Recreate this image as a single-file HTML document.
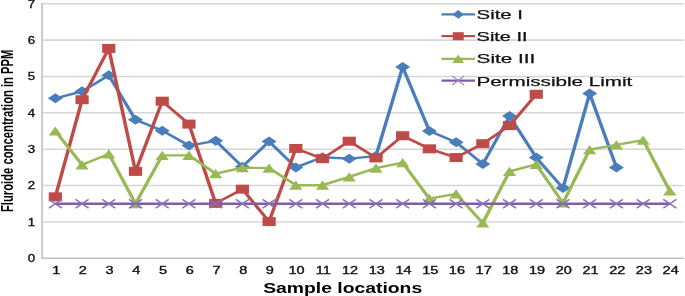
<!DOCTYPE html><html><head><meta charset="utf-8"><style>html,body{margin:0;padding:0;background:#fff;overflow:hidden;}svg{display:block;}text{font-family:"Liberation Sans",sans-serif;}svg{will-change:transform;}</style></head><body>
<svg width="685" height="296" viewBox="0 0 685 296">
<rect width="685" height="296" fill="#fff"/>
<line x1="42.0" y1="221.93" x2="684.0" y2="221.93" stroke="#d6d6d6" stroke-width="1.6"/>
<line x1="42.0" y1="185.56" x2="684.0" y2="185.56" stroke="#d6d6d6" stroke-width="1.6"/>
<line x1="42.0" y1="149.19" x2="684.0" y2="149.19" stroke="#d6d6d6" stroke-width="1.6"/>
<line x1="42.0" y1="112.82" x2="684.0" y2="112.82" stroke="#d6d6d6" stroke-width="1.6"/>
<line x1="42.0" y1="76.45" x2="684.0" y2="76.45" stroke="#d6d6d6" stroke-width="1.6"/>
<line x1="42.0" y1="40.08" x2="684.0" y2="40.08" stroke="#d6d6d6" stroke-width="1.6"/>
<line x1="42.0" y1="3.71" x2="684.0" y2="3.71" stroke="#d6d6d6" stroke-width="1.6"/>
<line x1="42.0" y1="258.3" x2="684.0" y2="258.3" stroke="#c0c0c0" stroke-width="1.6"/>
<line x1="42.0" y1="2.91" x2="42.0" y2="259.1" stroke="#c6c6c6" stroke-width="1.8"/>
<text transform="translate(35.2,262.10) scale(1.26,1)" font-size="10.5" text-anchor="end" fill="#111" stroke="#111" stroke-width="0.35">0</text>
<text transform="translate(35.2,225.73) scale(1.26,1)" font-size="10.5" text-anchor="end" fill="#111" stroke="#111" stroke-width="0.35">1</text>
<text transform="translate(35.2,189.36) scale(1.26,1)" font-size="10.5" text-anchor="end" fill="#111" stroke="#111" stroke-width="0.35">2</text>
<text transform="translate(35.2,152.99) scale(1.26,1)" font-size="10.5" text-anchor="end" fill="#111" stroke="#111" stroke-width="0.35">3</text>
<text transform="translate(35.2,116.62) scale(1.26,1)" font-size="10.5" text-anchor="end" fill="#111" stroke="#111" stroke-width="0.35">4</text>
<text transform="translate(35.2,80.25) scale(1.26,1)" font-size="10.5" text-anchor="end" fill="#111" stroke="#111" stroke-width="0.35">5</text>
<text transform="translate(35.2,43.88) scale(1.26,1)" font-size="10.5" text-anchor="end" fill="#111" stroke="#111" stroke-width="0.35">6</text>
<text transform="translate(35.2,7.51) scale(1.26,1)" font-size="10.5" text-anchor="end" fill="#111" stroke="#111" stroke-width="0.35">7</text>
<text transform="translate(56.16,273.6) scale(1.38,1)" font-size="10.5" text-anchor="middle" fill="#111" stroke="#111" stroke-width="0.35">1</text>
<text transform="translate(82.88,273.6) scale(1.38,1)" font-size="10.5" text-anchor="middle" fill="#111" stroke="#111" stroke-width="0.35">2</text>
<text transform="translate(109.59,273.6) scale(1.38,1)" font-size="10.5" text-anchor="middle" fill="#111" stroke="#111" stroke-width="0.35">3</text>
<text transform="translate(136.31,273.6) scale(1.38,1)" font-size="10.5" text-anchor="middle" fill="#111" stroke="#111" stroke-width="0.35">4</text>
<text transform="translate(163.03,273.6) scale(1.38,1)" font-size="10.5" text-anchor="middle" fill="#111" stroke="#111" stroke-width="0.35">5</text>
<text transform="translate(189.74,273.6) scale(1.38,1)" font-size="10.5" text-anchor="middle" fill="#111" stroke="#111" stroke-width="0.35">6</text>
<text transform="translate(216.46,273.6) scale(1.38,1)" font-size="10.5" text-anchor="middle" fill="#111" stroke="#111" stroke-width="0.35">7</text>
<text transform="translate(243.18,273.6) scale(1.38,1)" font-size="10.5" text-anchor="middle" fill="#111" stroke="#111" stroke-width="0.35">8</text>
<text transform="translate(269.89,273.6) scale(1.38,1)" font-size="10.5" text-anchor="middle" fill="#111" stroke="#111" stroke-width="0.35">9</text>
<text transform="translate(296.61,273.6) scale(1.38,1)" font-size="10.5" text-anchor="middle" fill="#111" stroke="#111" stroke-width="0.35">10</text>
<text transform="translate(323.33,273.6) scale(1.38,1)" font-size="10.5" text-anchor="middle" fill="#111" stroke="#111" stroke-width="0.35">11</text>
<text transform="translate(350.04,273.6) scale(1.38,1)" font-size="10.5" text-anchor="middle" fill="#111" stroke="#111" stroke-width="0.35">12</text>
<text transform="translate(376.76,273.6) scale(1.38,1)" font-size="10.5" text-anchor="middle" fill="#111" stroke="#111" stroke-width="0.35">13</text>
<text transform="translate(403.48,273.6) scale(1.38,1)" font-size="10.5" text-anchor="middle" fill="#111" stroke="#111" stroke-width="0.35">14</text>
<text transform="translate(430.19,273.6) scale(1.38,1)" font-size="10.5" text-anchor="middle" fill="#111" stroke="#111" stroke-width="0.35">15</text>
<text transform="translate(456.91,273.6) scale(1.38,1)" font-size="10.5" text-anchor="middle" fill="#111" stroke="#111" stroke-width="0.35">16</text>
<text transform="translate(483.63,273.6) scale(1.38,1)" font-size="10.5" text-anchor="middle" fill="#111" stroke="#111" stroke-width="0.35">17</text>
<text transform="translate(510.34,273.6) scale(1.38,1)" font-size="10.5" text-anchor="middle" fill="#111" stroke="#111" stroke-width="0.35">18</text>
<text transform="translate(537.06,273.6) scale(1.38,1)" font-size="10.5" text-anchor="middle" fill="#111" stroke="#111" stroke-width="0.35">19</text>
<text transform="translate(563.77,273.6) scale(1.38,1)" font-size="10.5" text-anchor="middle" fill="#111" stroke="#111" stroke-width="0.35">20</text>
<text transform="translate(590.49,273.6) scale(1.38,1)" font-size="10.5" text-anchor="middle" fill="#111" stroke="#111" stroke-width="0.35">21</text>
<text transform="translate(617.21,273.6) scale(1.38,1)" font-size="10.5" text-anchor="middle" fill="#111" stroke="#111" stroke-width="0.35">22</text>
<text transform="translate(643.92,273.6) scale(1.38,1)" font-size="10.5" text-anchor="middle" fill="#111" stroke="#111" stroke-width="0.35">23</text>
<text transform="translate(670.64,273.6) scale(1.38,1)" font-size="10.5" text-anchor="middle" fill="#111" stroke="#111" stroke-width="0.35">24</text>
<polyline transform="scale(1.45,1)" points="38.178,98.27 56.603,91.36 75.029,75.36 93.454,119.73 111.879,130.64 130.305,145.55 148.730,140.82 167.155,166.65 185.580,141.55 204.006,167.38 222.431,157.19 240.856,158.65 259.282,156.10 277.707,66.99 296.132,131.01 314.557,142.28 332.983,164.10 351.408,116.09 369.833,157.56 388.259,188.11 406.684,93.54 425.109,167.38" fill="none" stroke="#4a7ebb" stroke-width="2.4" stroke-linejoin="round"/>
<polygon points="47.86,98.27 55.36,93.27 62.86,98.27 55.36,103.27" fill="#4a7ebb"/>
<polygon points="74.58,91.36 82.08,86.36 89.58,91.36 82.08,96.36" fill="#4a7ebb"/>
<polygon points="101.29,75.36 108.79,70.36 116.29,75.36 108.79,80.36" fill="#4a7ebb"/>
<polygon points="128.01,119.73 135.51,114.73 143.01,119.73 135.51,124.73" fill="#4a7ebb"/>
<polygon points="154.73,130.64 162.23,125.64 169.73,130.64 162.23,135.64" fill="#4a7ebb"/>
<polygon points="181.44,145.55 188.94,140.55 196.44,145.55 188.94,150.55" fill="#4a7ebb"/>
<polygon points="208.16,140.82 215.66,135.82 223.16,140.82 215.66,145.82" fill="#4a7ebb"/>
<polygon points="234.88,166.65 242.38,161.65 249.88,166.65 242.38,171.65" fill="#4a7ebb"/>
<polygon points="261.59,141.55 269.09,136.55 276.59,141.55 269.09,146.55" fill="#4a7ebb"/>
<polygon points="288.31,167.38 295.81,162.38 303.31,167.38 295.81,172.38" fill="#4a7ebb"/>
<polygon points="315.03,157.19 322.53,152.19 330.03,157.19 322.53,162.19" fill="#4a7ebb"/>
<polygon points="341.74,158.65 349.24,153.65 356.74,158.65 349.24,163.65" fill="#4a7ebb"/>
<polygon points="368.46,156.10 375.96,151.10 383.46,156.10 375.96,161.10" fill="#4a7ebb"/>
<polygon points="395.18,66.99 402.68,61.99 410.18,66.99 402.68,71.99" fill="#4a7ebb"/>
<polygon points="421.89,131.01 429.39,126.01 436.89,131.01 429.39,136.01" fill="#4a7ebb"/>
<polygon points="448.61,142.28 456.11,137.28 463.61,142.28 456.11,147.28" fill="#4a7ebb"/>
<polygon points="475.33,164.10 482.83,159.10 490.33,164.10 482.83,169.10" fill="#4a7ebb"/>
<polygon points="502.04,116.09 509.54,111.09 517.04,116.09 509.54,121.09" fill="#4a7ebb"/>
<polygon points="528.76,157.56 536.26,152.56 543.76,157.56 536.26,162.56" fill="#4a7ebb"/>
<polygon points="555.48,188.11 562.98,183.11 570.48,188.11 562.98,193.11" fill="#4a7ebb"/>
<polygon points="582.19,93.54 589.69,88.54 597.19,93.54 589.69,98.54" fill="#4a7ebb"/>
<polygon points="608.91,167.38 616.41,162.38 623.91,167.38 616.41,172.38" fill="#4a7ebb"/>
<polyline transform="scale(1.45,1)" points="38.178,196.83 56.603,99.73 75.029,48.45 93.454,171.38 111.879,101.18 130.305,124.09 148.730,203.38 167.155,189.20 185.580,221.57 204.006,148.46 222.431,158.65 240.856,141.19 259.282,157.92 277.707,135.73 296.132,148.83 314.557,157.56 332.983,143.73 351.408,125.55 369.833,94.27" fill="none" stroke="#be4b48" stroke-width="2.4" stroke-linejoin="round"/>
<rect x="48.76" y="192.33" width="13.2" height="9" fill="#be4b48"/>
<rect x="75.48" y="95.23" width="13.2" height="9" fill="#be4b48"/>
<rect x="102.19" y="43.95" width="13.2" height="9" fill="#be4b48"/>
<rect x="128.91" y="166.88" width="13.2" height="9" fill="#be4b48"/>
<rect x="155.63" y="96.68" width="13.2" height="9" fill="#be4b48"/>
<rect x="182.34" y="119.59" width="13.2" height="9" fill="#be4b48"/>
<rect x="209.06" y="198.88" width="13.2" height="9" fill="#be4b48"/>
<rect x="235.78" y="184.70" width="13.2" height="9" fill="#be4b48"/>
<rect x="262.49" y="217.07" width="13.2" height="9" fill="#be4b48"/>
<rect x="289.21" y="143.96" width="13.2" height="9" fill="#be4b48"/>
<rect x="315.93" y="154.15" width="13.2" height="9" fill="#be4b48"/>
<rect x="342.64" y="136.69" width="13.2" height="9" fill="#be4b48"/>
<rect x="369.36" y="153.42" width="13.2" height="9" fill="#be4b48"/>
<rect x="396.07" y="131.23" width="13.2" height="9" fill="#be4b48"/>
<rect x="422.79" y="144.33" width="13.2" height="9" fill="#be4b48"/>
<rect x="449.51" y="153.06" width="13.2" height="9" fill="#be4b48"/>
<rect x="476.23" y="139.23" width="13.2" height="9" fill="#be4b48"/>
<rect x="502.94" y="121.05" width="13.2" height="9" fill="#be4b48"/>
<rect x="529.66" y="89.77" width="13.2" height="9" fill="#be4b48"/>
<polyline transform="scale(1.45,1)" points="38.178,131.01 56.603,164.83 75.029,153.92 93.454,203.75 111.879,155.37 130.305,155.37 148.730,173.56 167.155,167.74 185.580,168.10 204.006,185.20 222.431,185.20 240.856,176.83 259.282,168.10 277.707,162.65 296.132,198.65 314.557,193.93 332.983,223.02 351.408,171.38 369.833,164.47 388.259,203.02 406.684,149.55 425.109,144.83 443.534,140.10 461.960,191.02" fill="none" stroke="#98b954" stroke-width="2.4" stroke-linejoin="round"/>
<polygon points="48.76,135.61 55.36,126.41 61.96,135.61" fill="#98b954"/>
<polygon points="75.48,169.43 82.08,160.23 88.67,169.43" fill="#98b954"/>
<polygon points="102.19,158.52 108.79,149.32 115.39,158.52" fill="#98b954"/>
<polygon points="128.91,208.34 135.51,199.15 142.11,208.34" fill="#98b954"/>
<polygon points="155.63,159.97 162.23,150.77 168.83,159.97" fill="#98b954"/>
<polygon points="182.34,159.97 188.94,150.77 195.54,159.97" fill="#98b954"/>
<polygon points="209.06,178.16 215.66,168.96 222.26,178.16" fill="#98b954"/>
<polygon points="235.78,172.34 242.38,163.14 248.97,172.34" fill="#98b954"/>
<polygon points="262.49,172.70 269.09,163.50 275.69,172.70" fill="#98b954"/>
<polygon points="289.21,189.80 295.81,180.60 302.41,189.80" fill="#98b954"/>
<polygon points="315.93,189.80 322.53,180.60 329.13,189.80" fill="#98b954"/>
<polygon points="342.64,181.43 349.24,172.23 355.84,181.43" fill="#98b954"/>
<polygon points="369.36,172.70 375.96,163.50 382.56,172.70" fill="#98b954"/>
<polygon points="396.07,167.25 402.68,158.05 409.28,167.25" fill="#98b954"/>
<polygon points="422.79,203.25 429.39,194.05 435.99,203.25" fill="#98b954"/>
<polygon points="449.51,198.53 456.11,189.33 462.71,198.53" fill="#98b954"/>
<polygon points="476.23,227.62 482.83,218.42 489.43,227.62" fill="#98b954"/>
<polygon points="502.94,175.98 509.54,166.78 516.14,175.98" fill="#98b954"/>
<polygon points="529.66,169.07 536.26,159.87 542.86,169.07" fill="#98b954"/>
<polygon points="556.38,207.62 562.98,198.42 569.58,207.62" fill="#98b954"/>
<polygon points="583.09,154.15 589.69,144.95 596.29,154.15" fill="#98b954"/>
<polygon points="609.81,149.43 616.41,140.23 623.01,149.43" fill="#98b954"/>
<polygon points="636.52,144.70 643.12,135.50 649.73,144.70" fill="#98b954"/>
<polygon points="663.24,195.62 669.84,186.42 676.44,195.62" fill="#98b954"/>
<polyline transform="scale(1.45,1)" points="38.178,203.75 56.603,203.75 75.029,203.75 93.454,203.75 111.879,203.75 130.305,203.75 148.730,203.75 167.155,203.75 185.580,203.75 204.006,203.75 222.431,203.75 240.856,203.75 259.282,203.75 277.707,203.75 296.132,203.75 314.557,203.75 332.983,203.75 351.408,203.75 369.833,203.75 388.259,203.75 406.684,203.75 425.109,203.75 443.534,203.75 461.960,203.75" fill="none" stroke="#7d5fa5" stroke-width="2.3" stroke-linejoin="round"/>
<path d="M48.86,199.34L61.86,208.15M48.86,208.15L61.86,199.34" stroke="#8a70b8" stroke-width="1.6" fill="none"/>
<path d="M75.58,199.34L88.58,208.15M75.58,208.15L88.58,199.34" stroke="#8a70b8" stroke-width="1.6" fill="none"/>
<path d="M102.29,199.34L115.29,208.15M102.29,208.15L115.29,199.34" stroke="#8a70b8" stroke-width="1.6" fill="none"/>
<path d="M129.01,199.34L142.01,208.15M129.01,208.15L142.01,199.34" stroke="#8a70b8" stroke-width="1.6" fill="none"/>
<path d="M155.73,199.34L168.73,208.15M155.73,208.15L168.73,199.34" stroke="#8a70b8" stroke-width="1.6" fill="none"/>
<path d="M182.44,199.34L195.44,208.15M182.44,208.15L195.44,199.34" stroke="#8a70b8" stroke-width="1.6" fill="none"/>
<path d="M209.16,199.34L222.16,208.15M209.16,208.15L222.16,199.34" stroke="#8a70b8" stroke-width="1.6" fill="none"/>
<path d="M235.88,199.34L248.88,208.15M235.88,208.15L248.88,199.34" stroke="#8a70b8" stroke-width="1.6" fill="none"/>
<path d="M262.59,199.34L275.59,208.15M262.59,208.15L275.59,199.34" stroke="#8a70b8" stroke-width="1.6" fill="none"/>
<path d="M289.31,199.34L302.31,208.15M289.31,208.15L302.31,199.34" stroke="#8a70b8" stroke-width="1.6" fill="none"/>
<path d="M316.03,199.34L329.03,208.15M316.03,208.15L329.03,199.34" stroke="#8a70b8" stroke-width="1.6" fill="none"/>
<path d="M342.74,199.34L355.74,208.15M342.74,208.15L355.74,199.34" stroke="#8a70b8" stroke-width="1.6" fill="none"/>
<path d="M369.46,199.34L382.46,208.15M369.46,208.15L382.46,199.34" stroke="#8a70b8" stroke-width="1.6" fill="none"/>
<path d="M396.18,199.34L409.18,208.15M396.18,208.15L409.18,199.34" stroke="#8a70b8" stroke-width="1.6" fill="none"/>
<path d="M422.89,199.34L435.89,208.15M422.89,208.15L435.89,199.34" stroke="#8a70b8" stroke-width="1.6" fill="none"/>
<path d="M449.61,199.34L462.61,208.15M449.61,208.15L462.61,199.34" stroke="#8a70b8" stroke-width="1.6" fill="none"/>
<path d="M476.33,199.34L489.33,208.15M476.33,208.15L489.33,199.34" stroke="#8a70b8" stroke-width="1.6" fill="none"/>
<path d="M503.04,199.34L516.04,208.15M503.04,208.15L516.04,199.34" stroke="#8a70b8" stroke-width="1.6" fill="none"/>
<path d="M529.76,199.34L542.76,208.15M529.76,208.15L542.76,199.34" stroke="#8a70b8" stroke-width="1.6" fill="none"/>
<path d="M556.48,199.34L569.48,208.15M556.48,208.15L569.48,199.34" stroke="#8a70b8" stroke-width="1.6" fill="none"/>
<path d="M583.19,199.34L596.19,208.15M583.19,208.15L596.19,199.34" stroke="#8a70b8" stroke-width="1.6" fill="none"/>
<path d="M609.91,199.34L622.91,208.15M609.91,208.15L622.91,199.34" stroke="#8a70b8" stroke-width="1.6" fill="none"/>
<path d="M636.62,199.34L649.62,208.15M636.62,208.15L649.62,199.34" stroke="#8a70b8" stroke-width="1.6" fill="none"/>
<path d="M663.34,199.34L676.34,208.15M663.34,208.15L676.34,199.34" stroke="#8a70b8" stroke-width="1.6" fill="none"/>
<line x1="441.5" y1="14.4" x2="475" y2="14.4" stroke="#4a7ebb" stroke-width="2.2"/>
<polygon points="452.45,14.40 458.20,10.10 463.95,14.40 458.20,18.70" fill="#4a7ebb"/>
<text x="476.6" y="18.6" font-size="12.8" fill="#111" stroke="#111" stroke-width="0.25" textLength="46.3" lengthAdjust="spacingAndGlyphs">Site I</text>
<line x1="441.5" y1="36.2" x2="475" y2="36.2" stroke="#be4b48" stroke-width="2.2"/>
<rect x="452.70" y="32.20" width="11" height="8" fill="#be4b48"/>
<text x="476.6" y="41.0" font-size="12.8" fill="#111" stroke="#111" stroke-width="0.25" textLength="51" lengthAdjust="spacingAndGlyphs">Site II</text>
<line x1="441.5" y1="58.8" x2="475" y2="58.8" stroke="#98b954" stroke-width="2.2"/>
<polygon points="452.20,63.00 458.20,54.60 464.20,63.00" fill="#98b954"/>
<text x="476.6" y="63.2" font-size="12.8" fill="#111" stroke="#111" stroke-width="0.25" textLength="58.7" lengthAdjust="spacingAndGlyphs">Site III</text>
<line x1="441.5" y1="80.6" x2="475" y2="80.6" stroke="#7d5fa5" stroke-width="2.2"/>
<path d="M452.20,76.10L464.20,85.10M452.20,85.10L464.20,76.10" stroke="#9d88cb" stroke-width="1.2" fill="none"/>
<text x="476.4" y="85.7" font-size="12.8" fill="#111" stroke="#111" stroke-width="0.25" textLength="155.9" lengthAdjust="spacingAndGlyphs">Permissible Limit</text>
<text x="263.2" y="293.1" font-size="15.3" font-weight="bold" fill="#000" textLength="159" lengthAdjust="spacingAndGlyphs">Sample locations</text>
<text transform="translate(12.7,212) rotate(-90)" x="0" y="0" font-size="15.8" font-weight="bold" fill="#000" textLength="162.5" lengthAdjust="spacingAndGlyphs">Fluroide concentration in PPM</text>
</svg></body></html>
